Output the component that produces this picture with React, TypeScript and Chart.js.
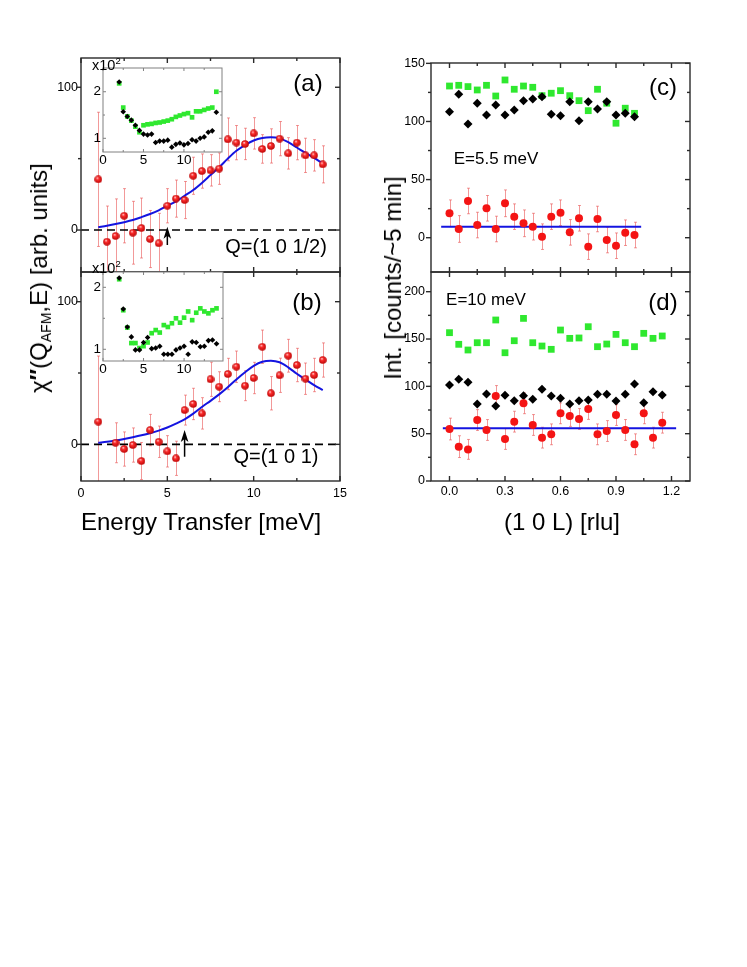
import React, { useEffect, useRef } from 'react';
import { Chart, registerables } from 'chart.js';

Chart.register(...registerables);

const FONT = '"Liberation Sans", Arial, Helvetica, sans-serif';

// ---------------- Panel (a): Q=(1 0 1/2) ----------------
const energyA = [1, 1.5, 2, 2.5, 3, 3.5, 4, 4.5, 5, 5.5, 6, 6.5, 7, 7.5, 8, 8.5, 9, 9.5, 10, 10.5, 11, 11.5, 12, 12.5, 13, 13.5, 14];
const chiA = [35.5, -8.2, -4.2, 10, -1.9, 1.4, -6.3, -9.3, 17, 22, 21, 38, 41.3, 41.8, 43, 63.5, 61.2, 60.3, 67.7, 56.8, 58.9, 64, 53.7, 61.2, 52.3, 52.3, 46];
const errA = [47, 25, 26, 19, 22, 21, 20, 21, 12, 13, 13, 13, 12, 11, 11, 15, 12, 11, 11, 10, 12, 12, 11, 12, 12, 11, 13];
const fitEnergy = [1, 1.5, 2, 2.5, 3, 3.5, 4, 4.5, 5, 5.5, 6, 6.5, 7, 7.5, 8, 8.5, 9, 9.5, 10, 10.5, 11, 11.5, 12, 12.5, 13, 13.5, 14];
const fitA = [2, 3, 4.2, 5.5, 7, 9, 11.2, 13.8, 17, 20, 24, 28, 33, 38.5, 44, 50, 55.5, 59.5, 62.7, 64.5, 65, 64.2, 61.5, 57.8, 54, 50.5, 46.7];

// ---------------- Panel (b): Q=(1 0 1) ----------------
const energyB = [1, 2, 2.5, 3, 3.5, 4, 4.5, 5, 5.5, 6, 6.5, 7, 7.5, 8, 8.5, 9, 9.5, 10, 10.5, 11, 11.5, 12, 12.5, 13, 13.5, 14];
const chiB = [15.9, 1.1, -3.3, -0.5, -11.7, 10, 1.8, -4.9, -9.8, 24, 28.3, 21.7, 45.6, 40.4, 49.3, 54.4, 41.1, 46.5, 68.4, 35.8, 48.4, 62.1, 55.6, 46, 48.6, 59.1];
const errB = [46, 14, 12, 12, 13, 11, 11, 11, 12, 10.5, 11, 11, 12, 10.5, 11, 11, 10.5, 11, 11.7, 11.7, 12, 11.5, 11.7, 11, 11.7, 12];
const fitB = [1.1, 1.8, 2.7, 3.8, 5, 6.3, 7.8, 9.6, 11.8, 14.5, 17.5, 21.5, 26.2, 30.5, 35, 40, 45.5, 50.5, 55, 57.9, 58.6, 57.5, 54, 49.5, 45.5, 41.5, 38];

// zero line and arrows (a), (b)
const zeroLineE = [0, 15];
const zeroLineV = [0, 0];
const arrowEnergy = [5, 6];
const arrowBase = [-10.5, -8.7];
const arrowTip = [2.3, 10];

// ---------------- Insets (x10^2) ----------------
const insetEnergy = [2, 2.5, 3, 3.5, 4, 4.5, 5, 5.5, 6, 6.5, 7, 7.5, 8, 8.5, 9, 9.5, 10, 10.5, 11, 11.5, 12, 12.5, 13, 13.5, 14];
const insetABlack = [2.21, 1.57, 1.47, 1.39, 1.28, 1.17, 1.09, 1.07, 1.09, 0.91, 0.94, 0.94, 0.96, 0.81, 0.87, 0.9, 0.86, 0.89, 0.97, 0.94, 1.0, 1.03, 1.13, 1.16, 1.56];
const insetAGreen = [2.18, 1.66, 1.47, 1.38, 1.25, 1.13, 1.28, 1.3, 1.31, 1.33, 1.34, 1.36, 1.38, 1.41, 1.46, 1.49, 1.52, 1.54, 1.45, 1.58, 1.58, 1.61, 1.64, 1.66, 2.0];
const insetBBlack = [2.15, 1.65, 1.36, 1.2, 0.99, 0.99, 1.11, 1.19, 1.01, 1.02, 1.05, 0.92, 0.92, 0.92, 0.99, 1.02, 1.05, 0.92, 1.12, 1.11, 1.04, 1.05, 1.14, 1.15, 1.09];
const insetBGreen = [2.13, 1.63, 1.35, 1.1, 1.1, 1.02, 1.05, 1.11, 1.26, 1.31, 1.27, 1.39, 1.36, 1.42, 1.5, 1.43, 1.51, 1.61, 1.47, 1.59, 1.66, 1.61, 1.58, 1.63, 1.66];

// ---------------- Panel (c): E=5.5 meV ----------------
const lC = [0, 0.05, 0.1, 0.15, 0.2, 0.25, 0.3, 0.35, 0.4, 0.45, 0.5, 0.55, 0.6, 0.65, 0.7, 0.75, 0.8, 0.85, 0.9, 0.95, 1.0];
const blackC = [108.4, 123.4, 97.8, 115.7, 105.6, 114.2, 105.6, 109.9, 117.9, 119.4, 121.3, 106.2, 105, 117, 100.7, 117, 110.8, 117, 105.6, 107, 104.1];
const greenC = [130.5, 131.1, 130, 127.1, 131.1, 121.9, 135.7, 127.7, 130.5, 129.4, 122.2, 124.3, 126.5, 122.2, 117.9, 109.3, 127.7, 115.7, 98.5, 111.4, 107];
const redC = [21, 7.5, 31.6, 10.9, 25.3, 7.5, 29.6, 18.1, 12.4, 9.5, 0.9, 18.1, 21.5, 4.6, 16.7, -7.7, 16.1, -2, -6.9, 4.3, 2.3];
const errC = [11.5, 11.5, 11, 11, 11, 11, 11.5, 11, 11.5, 11.5, 11, 11, 11, 11, 11, 11, 11, 11, 11, 11, 11];
const flatC_L = [-0.045, 1.036];
const flatC_V = [9.5, 9.5];

// ---------------- Panel (d): E=10 meV ----------------
const lD = [0, 0.05, 0.1, 0.15, 0.2, 0.25, 0.3, 0.35, 0.4, 0.45, 0.5, 0.55, 0.6, 0.65, 0.7, 0.75, 0.8, 0.85, 0.9, 0.95, 1.0, 1.05, 1.1, 1.15];
const greenD = [156.7, 144.4, 138.4, 146.1, 146.1, 170.1, 135.5, 148.2, 171.8, 146.1, 142.6, 139.1, 159.5, 150.7, 151.1, 163, 141.9, 144.7, 154.9, 146.1, 141.9, 156, 150.7, 153.2];
const blackD = [101.4, 107.4, 104.3, 81.3, 91.9, 79.2, 90.5, 84.8, 90.1, 86.3, 96.9, 89.8, 87.3, 81.3, 84.8, 85.5, 91.6, 91.6, 84.5, 91.6, 102.5, 82.7, 94.4, 90.9];
const redD = [54.9, 36.3, 33.4, 64.4, 53.9, 89.8, 44.4, 62.7, 82.1, 59.2, 45.8, 49.3, 71.5, 68.7, 65.5, 76.1, 49.3, 52.8, 69.7, 53.9, 38.8, 71.5, 45.8, 61.6];
const errD = [11.5, 11.5, 10.5, 11, 11, 11, 11, 11, 11, 11, 11, 11, 11, 11, 11, 11, 11, 11, 11, 11, 11, 11, 11, 11];
const flatD_L = [-0.036, 1.225];
const flatD_V = [55.6, 55.6];

// ---------------- Tick labels ----------------
const energyTicks = [0, 5, 10, 15];
const energyMinor = [2.5, 7.5, 12.5];
const chiTicks = [0, 100];
const chiMinor = [50];
const lTicks = [0, 0.3, 0.6, 0.9, 1.2];
const lMinor = [0.15, 0.45, 0.75, 1.05];
const intTicksC = [0, 50, 100, 150];
const intMinorC = [25, 75, 125];
const intTicksD = [0, 50, 100, 150, 200];
const intMinorD = [25, 75, 125, 175];
const insetXTicks = [0, 5, 10];
const insetXMinor = [2.5, 7.5, 12.5];
const insetYTicks = [1, 2];
const insetYMinor = [1.5];

const BLUE = '#1414e0';
const GREEN = '#2fe82f';
const RED = '#f41414';
const ERR = 'rgba(232,70,70,0.55)';

const pts = (xs: number[], ys: number[]) => xs.map((x, i) => ({ x, y: ys[i] }));

function makeSphere(d: number) {
  const c = document.createElement('canvas');
  c.width = d;
  c.height = d;
  const g = c.getContext('2d')!;
  const r = d / 2;
  const grad = g.createRadialGradient(r * 0.75, r * 0.65, r * 0.05, r, r, r);
  grad.addColorStop(0, '#ffe0e0');
  grad.addColorStop(0.3, '#ff3030');
  grad.addColorStop(1, '#b80000');
  g.fillStyle = grad;
  g.beginPath();
  g.arc(r, r, r - 0.2, 0, Math.PI * 2);
  g.fill();
  return c;
}

const errorBarPlugin = {
  id: 'errbars',
  beforeDatasetsDraw(chart: any) {
    const { ctx, chartArea: ca } = chart;
    const ys = chart.scales.y;
    ctx.save();
    ctx.beginPath();
    ctx.rect(ca.left, ca.top, ca.right - ca.left, ca.bottom - ca.top);
    ctx.clip();
    chart.data.datasets.forEach((ds: any, di: number) => {
      const errs = ds.errorBars;
      if (!errs) return;
      const meta = chart.getDatasetMeta(di);
      ctx.strokeStyle = ERR;
      ctx.lineWidth = 1;
      meta.data.forEach((el: any, i: number) => {
        const v = ds.data[i].y;
        const e = errs[i];
        const x = Math.round(el.x) + 0.5;
        const y1 = ys.getPixelForValue(v + e);
        const y2 = ys.getPixelForValue(v - e);
        ctx.beginPath();
        ctx.moveTo(x, y1);
        ctx.lineTo(x, y2);
        ctx.moveTo(x - 1.5, y1);
        ctx.lineTo(x + 1.5, y1);
        ctx.moveTo(x - 1.5, y2);
        ctx.lineTo(x + 1.5, y2);
        ctx.stroke();
      });
    });
    ctx.restore();
  },
};

const framePlugin = {
  id: 'frame',
  beforeDraw(chart: any, _a: any, o: any) {
    if (o && o.fill) {
      const { ctx, chartArea: ca } = chart;
      ctx.save();
      ctx.fillStyle = '#ffffff';
      ctx.fillRect(ca.left, ca.top, ca.right - ca.left, ca.bottom - ca.top);
      ctx.restore();
    }
  },
  afterDraw(chart: any, _a: any, o: any) {
    const { ctx, chartArea: ca } = chart;
    const xs = chart.scales.x;
    const ys = chart.scales.y;
    ctx.save();
    ctx.strokeStyle = o.color;
    ctx.lineWidth = o.width;
    ctx.strokeRect(ca.left, ca.top, ca.right - ca.left, ca.bottom - ca.top);
    const seg = (x1: number, y1: number, x2: number, y2: number) => {
      ctx.beginPath();
      ctx.moveTo(x1, y1);
      ctx.lineTo(x2, y2);
      ctx.stroke();
    };
    const doX = (vals: number[], len: number) =>
      vals.forEach((v) => {
        const px = xs.getPixelForValue(v);
        seg(px, ca.bottom, px, ca.bottom - len);
        seg(px, ca.top, px, ca.top + len);
      });
    const doY = (vals: number[], len: number) =>
      vals.forEach((v) => {
        const py = ys.getPixelForValue(v);
        seg(ca.left, py, ca.left - len * o.leftDir, py);
        seg(ca.right, py, ca.right - len, py);
      });
    doX(o.xMajor, o.major);
    doX(o.xMinor, o.minor);
    doY(o.yMajor, o.major);
    doY(o.yMinor, o.minor);
    ctx.restore();
  },
};

const arrowPlugin = {
  id: 'arrowMark',
  afterDatasetsDraw(chart: any, _a: any, o: any) {
    if (!o || typeof o.x !== 'number') return;
    const { ctx } = chart;
    const px = chart.scales.x.getPixelForValue(o.x);
    const pb = chart.scales.y.getPixelForValue(o.from);
    const pt = chart.scales.y.getPixelForValue(o.to);
    ctx.save();
    ctx.strokeStyle = '#000';
    ctx.fillStyle = '#000';
    ctx.lineWidth = 1.5;
    ctx.beginPath();
    ctx.moveTo(px, pb);
    ctx.lineTo(px, pt + 8);
    ctx.stroke();
    ctx.beginPath();
    ctx.moveTo(px, pt);
    ctx.lineTo(px - 3.8, pt + 12);
    ctx.lineTo(px, pt + 9);
    ctx.lineTo(px + 3.8, pt + 12);
    ctx.closePath();
    ctx.fill();
    ctx.restore();
  },
};

type Box = { L: number; T: number; R: number; B: number };
type Marg = { l: number; t: number; r: number; b: number };

interface PanelSpec {
  box: Box;
  m: Marg;
  xMin: number;
  xMax: number;
  yMin: number;
  yMax: number;
  xLabels: number[];
  yLabels: number[];
  showX: boolean;
  xDigits: number;
  fontSize: number;
  xPad: number;
  yPad: number;
  frame: any;
  arrow?: any;
  datasets: any[];
}

function makeConfig(p: PanelSpec) {
  const plugins: any = {
    legend: { display: false },
    tooltip: { enabled: false },
    frame: p.frame,
  };
  const inline: any[] = [framePlugin, errorBarPlugin];
  if (p.arrow) {
    plugins.arrowMark = p.arrow;
    inline.push(arrowPlugin);
  }
  return {
    type: 'scatter' as const,
    data: { datasets: p.datasets },
    options: {
      responsive: false,
      animation: false as const,
      devicePixelRatio: 1,
      events: [],
      layout: { padding: { left: 0, top: p.m.t, right: p.m.r, bottom: 0 } },
      plugins,
      scales: {
        x: {
          type: 'linear' as const,
          position: 'bottom' as const,
          min: p.xMin,
          max: p.xMax,
          grid: { display: false, drawTicks: false },
          border: { display: false },
          ticks: {
            display: p.showX,
            autoSkip: false,
            maxRotation: 0,
            padding: p.xPad,
            color: '#000',
            font: { family: FONT, size: p.fontSize },
            callback: (v: any) => Number(v).toFixed(p.xDigits),
          },
          afterBuildTicks: (s: any) => {
            s.ticks = p.xLabels.map((v) => ({ value: v }));
          },
          afterFit: (s: any) => {
            s.height = p.m.b;
          },
        },
        y: {
          type: 'linear' as const,
          position: 'left' as const,
          min: p.yMin,
          max: p.yMax,
          grid: { display: false, drawTicks: false },
          border: { display: false },
          ticks: {
            autoSkip: false,
            padding: p.yPad,
            color: '#000',
            font: { family: FONT, size: p.fontSize },
            callback: (v: any) => String(v),
          },
          afterBuildTicks: (s: any) => {
            s.ticks = p.yLabels.map((v) => ({ value: v }));
          },
          afterFit: (s: any) => {
            s.width = p.m.l;
          },
        },
      },
    },
    plugins: inline,
  };
}

const mainFrame = (xMajor: number[], xMinor: number[], yMajor: number[], yMinor: number[]) => ({
  color: '#2a2a2a',
  width: 1.4,
  xMajor,
  xMinor,
  yMajor,
  yMinor,
  major: 5,
  minor: 3,
  leftDir: 1,
});

const insetFrame = {
  color: '#808080',
  width: 1,
  xMajor: insetXTicks,
  xMinor: insetXMinor,
  yMajor: insetYTicks,
  yMinor: insetYMinor,
  major: 3,
  minor: 2,
  leftDir: -1,
  fill: true,
};

// layout of the six plot areas (page pixels)
const BOX_A: Box = { L: 81, T: 58, R: 340, B: 272 };
const BOX_B: Box = { L: 81, T: 272, R: 340, B: 481 };
const BOX_C: Box = { L: 431, T: 63, R: 690, B: 272 };
const BOX_D: Box = { L: 431, T: 272, R: 690, B: 481 };
const BOX_IA: Box = { L: 103, T: 68, R: 222, B: 152 };
const BOX_IB: Box = { L: 103, T: 272, R: 223, B: 361 };
const M_TOP: Marg = { l: 40, t: 16, r: 16, b: 22 };
const M_BOT: Marg = { l: 40, t: 16, r: 16, b: 32 };
const M_IN: Marg = { l: 16, t: 14, r: 6, b: 16 };

const canvasStyle = (b: Box, m: Marg): React.CSSProperties => ({
  position: 'absolute',
  left: b.L - m.l,
  top: b.T - m.t,
  width: b.R - b.L + m.l + m.r,
  height: b.B - b.T + m.t + m.b,
});

const PLACES: [Box, Marg][] = [
  [BOX_A, M_TOP],
  [BOX_B, M_BOT],
  [BOX_C, M_TOP],
  [BOX_D, M_BOT],
  [BOX_IA, M_IN],
  [BOX_IB, M_IN],
];

export default function App() {
  const refs = useRef<(HTMLCanvasElement | null)[]>([]);

  useEffect(() => {
    const sphere = makeSphere(8);
    const redPoints = (xs: number[], ys: number[], errs: number[]) => ({
      data: pts(xs, ys),
      errorBars: errs,
      pointStyle: sphere,
      pointRadius: 4,
      showLine: false,
    });
    const line = (xs: number[], ys: number[], color: string, width: number, dash: number[] = []) => ({
      data: pts(xs, ys),
      showLine: true,
      borderColor: color,
      borderWidth: width,
      borderDash: dash,
      pointRadius: 0,
      tension: 0.4,
      cubicInterpolationMode: 'monotone',
    });
    const diamonds = (xs: number[], ys: number[], r: number) => ({
      data: pts(xs, ys),
      pointStyle: 'rectRot',
      pointRadius: r,
      pointBackgroundColor: '#000',
      pointBorderColor: '#000',
      pointBorderWidth: 0,
    });
    const squares = (xs: number[], ys: number[], r: number) => ({
      data: pts(xs, ys),
      pointStyle: 'rect',
      pointRadius: r,
      pointBackgroundColor: GREEN,
      pointBorderColor: GREEN,
      pointBorderWidth: 0,
    });
    const circles = (xs: number[], ys: number[], errs: number[]) => ({
      data: pts(xs, ys),
      errorBars: errs,
      pointStyle: 'circle',
      pointRadius: 4,
      pointBackgroundColor: RED,
      pointBorderColor: RED,
      pointBorderWidth: 0,
    });

    const specs: PanelSpec[] = [
      {
        box: BOX_A, m: M_TOP, xMin: 0, xMax: 15, yMin: -29.4, yMax: 120.5,
        xLabels: energyTicks, yLabels: chiTicks, showX: false, xDigits: 0, fontSize: 12.5, xPad: 5, yPad: 3,
        frame: mainFrame(energyTicks, energyMinor, chiTicks, chiMinor),
        arrow: { x: arrowEnergy[0], from: arrowBase[0], to: arrowTip[0] },
        datasets: [
          redPoints(energyA, chiA, errA),
          line(fitEnergy, fitA, BLUE, 2),
          line(zeroLineE, zeroLineV, '#000', 1.6, [8, 5]),
        ],
      },
      {
        box: BOX_B, m: M_BOT, xMin: 0, xMax: 15, yMin: -25.7, yMax: 120.8,
        xLabels: energyTicks, yLabels: chiTicks, showX: true, xDigits: 0, fontSize: 12.5, xPad: 5, yPad: 3,
        frame: mainFrame(energyTicks, energyMinor, chiTicks, chiMinor),
        arrow: { x: arrowEnergy[1], from: arrowBase[1], to: arrowTip[1] },
        datasets: [
          redPoints(energyB, chiB, errB),
          line(fitEnergy, fitB, BLUE, 2),
          line(zeroLineE, zeroLineV, '#000', 1.6, [8, 5]),
        ],
      },
      {
        box: BOX_C, m: M_TOP, xMin: -0.1, xMax: 1.3, yMin: -29.5, yMax: 150.3,
        xLabels: lTicks, yLabels: intTicksC, showX: false, xDigits: 1, fontSize: 12.5, xPad: 3, yPad: 6,
        frame: mainFrame(lTicks, lMinor, intTicksC, intMinorC),
        datasets: [
          circles(lC, redC, errC),
          diamonds(lC, blackC, 4.5),
          squares(lC, greenC, 4.8),
          line(flatC_L, flatC_V, BLUE, 2),
        ],
      },
      {
        box: BOX_D, m: M_BOT, xMin: -0.1, xMax: 1.3, yMin: 0, yMax: 220.8,
        xLabels: lTicks, yLabels: intTicksD, showX: true, xDigits: 1, fontSize: 12.5, xPad: 3, yPad: 6,
        frame: mainFrame(lTicks, lMinor, intTicksD, intMinorD),
        datasets: [
          circles(lD, redD, errD),
          diamonds(lD, blackD, 4.5),
          squares(lD, greenD, 4.8),
          line(flatD_L, flatD_V, BLUE, 2),
        ],
      },
      {
        box: BOX_IA, m: M_IN, xMin: 0, xMax: 14.7, yMin: 0.706, yMax: 2.51,
        xLabels: insetXTicks, yLabels: insetYTicks, showX: true, xDigits: 0, fontSize: 13.5, xPad: 0, yPad: 2,
        frame: insetFrame,
        datasets: [diamonds(insetEnergy, insetABlack, 2.8), squares(insetEnergy, insetAGreen, 3.3)],
      },
      {
        box: BOX_IB, m: M_IN, xMin: 0, xMax: 14.8, yMin: 0.811, yMax: 2.247,
        xLabels: insetXTicks, yLabels: insetYTicks, showX: true, xDigits: 0, fontSize: 13.5, xPad: 0, yPad: 2,
        frame: insetFrame,
        datasets: [diamonds(insetEnergy, insetBBlack, 2.8), squares(insetEnergy, insetBGreen, 3.3)],
      },
    ];

    const charts: Chart[] = [];
    specs.forEach((s, i) => {
      const cv = refs.current[i];
      if (!cv) return;
      charts.push(new Chart(cv, makeConfig(s) as any));
    });
    return () => charts.forEach((c) => c.destroy());
  }, []);

  const txt = (x: number, y: number, size: number, extra: React.CSSProperties = {}): React.CSSProperties => ({
    position: 'absolute',
    left: x,
    top: y,
    fontSize: size,
    lineHeight: 1,
    whiteSpace: 'nowrap',
    color: '#000',
    fontFamily: FONT,
    transform: 'translate(-50%,-50%)',
    ...extra,
  });

  return (
    <div
      style={{
        position: 'absolute',
        left: 0,
        top: 0,
        width: 747,
        height: 967,
        background: '#ffffff',
        overflow: 'hidden',
        fontFamily: FONT,
      }}
    >
      {PLACES.map(([b, m], i) => {
        const st = canvasStyle(b, m);
        return (
          <canvas
            key={i}
            ref={(el) => {
              refs.current[i] = el;
            }}
            width={st.width as number}
            height={st.height as number}
            style={st}
          />
        );
      })}

      {/* panel labels */}
      <div style={txt(308, 83, 24)}>(a)</div>
      <div style={txt(276, 246, 20)}>Q=(1 0 1/2)</div>
      <div style={txt(307, 302, 24)}>(b)</div>
      <div style={txt(276, 456, 20)}>Q=(1 0 1)</div>
      <div style={txt(663, 87, 24)}>(c)</div>
      <div style={txt(663, 302, 24)}>(d)</div>
      <div style={txt(496, 158, 17)}>E=5.5 meV</div>
      <div style={txt(486, 299, 17)}>E=10 meV</div>

      {/* inset multipliers */}
      <div style={txt(92, 64, 14.5, { transform: 'translate(0,-50%)' })}>
        x10<sup style={{ fontSize: 9.5, verticalAlign: 6 }}>2</sup>
      </div>
      <div style={txt(92, 267, 14.5, { transform: 'translate(0,-50%)' })}>
        x10<sup style={{ fontSize: 9.5, verticalAlign: 6 }}>2</sup>
      </div>

      {/* axis titles */}
      <div style={txt(201, 522, 24)}>Energy Transfer [meV]</div>
      <div style={txt(562, 522, 24)}>(1 0 L) [rlu]</div>
      <div style={txt(40, 278, 24, { transform: 'translate(-50%,-50%) rotate(-90deg)' })}>
        χ<b>″</b>(Q<sub style={{ fontSize: 14, verticalAlign: -4 }}>AFM</sub>,E) [arb. units]
      </div>
      <div style={txt(393, 278, 24, { transform: 'translate(-50%,-50%) rotate(-90deg)' })}>
        Int. [counts/~5 min]
      </div>
    </div>
  );
}
